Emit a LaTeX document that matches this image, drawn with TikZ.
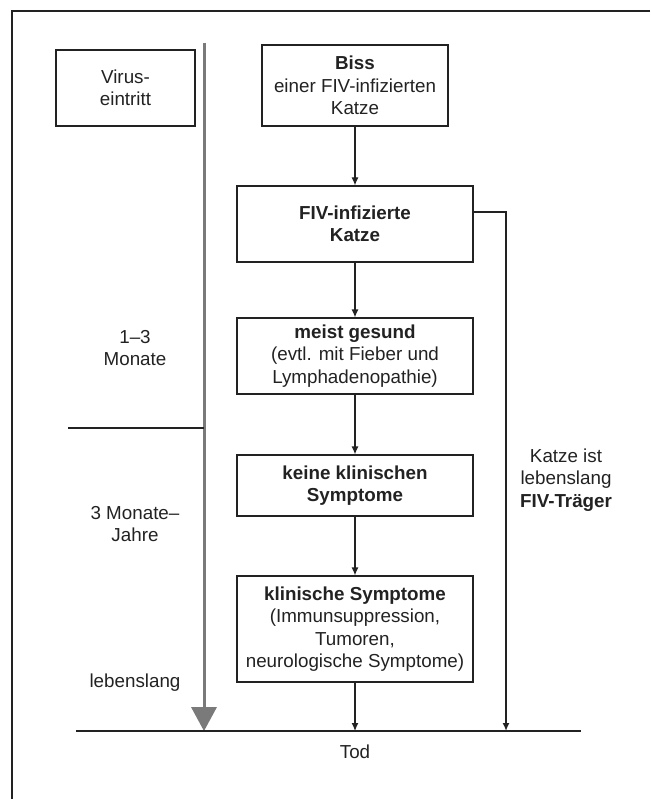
\documentclass[tikz,border=0pt]{standalone}
\usepackage{fontspec}
\setmainfont{Liberation Sans}
\usetikzlibrary{arrows.meta,calc}
\definecolor{ink}{HTML}{222222}
\definecolor{timegray}{HTML}{7A7A7A}
\begin{document}
\begin{tikzpicture}[x=1pt,y=-1pt,
  every node/.style={font=\fontsize{18.8}{22.5}\selectfont, text=ink},
  stagebox/.style={draw=ink, line width=1.2pt, align=center, inner sep=0pt, minimum width=236pt},
  arr/.style={draw=ink, line width=1.2pt, -{Latex[length=8pt,width=7pt]}},
  plain/.style={draw=ink, line width=1.2pt},
  label/.style={align=center, inner sep=0pt}]
\useasboundingbox (0,0) rectangle (650,799);
% frame (top and left edge)
\coordinate (ftl) at (12,11);
\coordinate (ftr) at (650,11);
\coordinate (fbl) at (12,799);
\draw[plain] (ftr) -- (ftl) -- (fbl);

% time axis
\coordinate (ta) at (204,43);
\coordinate (tb) at (204,708);
\coordinate (tc) at (204,731);
\draw[timegray, line width=3pt] (ta) -- (tb);
\fill[timegray] (191,707) -- (217,707) -- (tc) -- cycle;

% left boxes and labels
\node[draw=ink, line width=1.2pt, align=center, inner sep=0pt, minimum width=139pt, minimum height=76pt] (virus) at (125.5,88) {Virus-\\eintritt};
\node[label] (t1) at (135,348) {1--3\\Monate};
\node[label] (t2) at (135,524) {3 Monate--\\Jahre};
\node[label] (t3) at (135,683) {lebenslang};
\coordinate (dl) at (68,428);
\coordinate (dr) at (204,428);
\draw[plain] (dl) -- (dr);

% main chain
\node[draw=ink, line width=1.2pt, align=center, inner sep=0pt, minimum width=186pt, minimum height=81pt] (biss) at (355,85.5) {\textbf{Biss}\\einer FIV-infizierten\\Katze};
\node[stagebox, minimum height=76pt] (fiv) at (355,224) {\textbf{FIV-infizierte}\\\textbf{Katze}};
\node[stagebox, minimum height=76pt] (meist) at (355,356) {\textbf{meist gesund}\\(evtl. mit Fieber und\\Lymphadenopathie)};
\node[stagebox, minimum height=61pt] (keine) at (355,485.5) {\textbf{keine klinischen}\\\textbf{Symptome}};
\node[stagebox, minimum height=106pt] (klin) at (355,629) {\textbf{klinische Symptome}\\(Immunsuppression,\\Tumoren,\\neurologische Symptome)};

\draw[arr] (biss) -- (fiv);
\draw[arr] (fiv) -- (meist);
\draw[arr] (meist) -- (keine);
\draw[arr] (keine) -- (klin);
\coordinate (kd) at (355,731);
\draw[arr] (klin) -- (kd);

% right carrier connector
\coordinate (rs) at ($(fiv.north east)+(0,27)$);
\coordinate (rd) at (506,731);
\draw[draw=ink, line width=1.8pt, -{Latex[length=8pt,width=7pt]}] (rs) -| (rd);
\node[label] (carrier) at (566,480) {Katze ist\\lebenslang\\\textbf{FIV-Träger}};

% death line
\coordinate (ll) at (76,731);
\coordinate (lr) at (581,731);
\draw[plain] (ll) -- (lr);
\node[label] (tod) at (355,752) {Tod};
\end{tikzpicture}
\end{document}
